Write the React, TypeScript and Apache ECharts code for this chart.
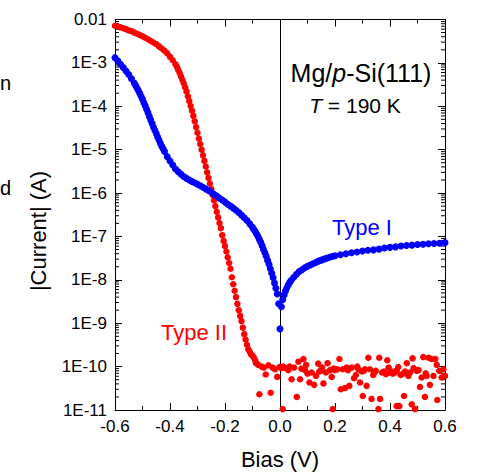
import React, { useEffect, useRef } from "react";
import * as echarts from "echarts";

const FONT = '"Liberation Sans", Arial, Helvetica, sans-serif';

// Axis ranges / ticks
const biasTicks = [-0.6, -0.4, -0.2, 0.0, 0.2, 0.4, 0.6];
const currentMin = 1e-11;
const currentMax = 0.01;
const decadeExponents = [-11, -10, -9, -8, -7, -6, -5, -4, -3];
const minorMultipliers = [2, 3, 4, 5, 6, 7, 8, 9];

// Type I (blue): [bias V, |current| A]
const typeI: [number, number][] = [
  [-0.6, 1.32e-3], [-0.59, 1.12e-3], [-0.58, 9.3e-4], [-0.57, 7.8e-4], [-0.56, 6.5e-4],
  [-0.55, 5.4e-4], [-0.54, 4.3e-4], [-0.53, 3.45e-4], [-0.525, 3.0e-4], [-0.52, 2.65e-4],
  [-0.515, 2.3e-4], [-0.51, 2.0e-4], [-0.505, 1.7e-4], [-0.5, 1.45e-4], [-0.495, 1.2e-4],
  [-0.49, 1.03e-4], [-0.485, 8.5e-5], [-0.48, 7.1e-5], [-0.475, 5.8e-5], [-0.47, 4.8e-5],
  [-0.465, 4.0e-5], [-0.46, 3.3e-5], [-0.455, 2.8e-5], [-0.45, 2.35e-5], [-0.445, 1.96e-5],
  [-0.44, 1.66e-5], [-0.435, 1.4e-5], [-0.43, 1.2e-5], [-0.425, 1.05e-5], [-0.42, 9.1e-6],
  [-0.41, 6.9e-6], [-0.4, 5.5e-6], [-0.39, 4.45e-6], [-0.38, 3.6e-6], [-0.37, 3.1e-6],
  [-0.36, 2.7e-6], [-0.35, 2.4e-6], [-0.34, 2.18e-6], [-0.33, 2.0e-6], [-0.32, 1.85e-6],
  [-0.31, 1.73e-6], [-0.3, 1.6e-6], [-0.29, 1.47e-6], [-0.28, 1.36e-6], [-0.27, 1.25e-6],
  [-0.26, 1.15e-6], [-0.25, 1.04e-6], [-0.24, 9.4e-7], [-0.23, 8.5e-7], [-0.22, 7.6e-7],
  [-0.21, 6.9e-7], [-0.2, 6.2e-7], [-0.19, 5.5e-7], [-0.18, 5.0e-7], [-0.17, 4.5e-7],
  [-0.16, 4.0e-7], [-0.15, 3.55e-7], [-0.14, 3.1e-7], [-0.13, 2.7e-7], [-0.12, 2.33e-7],
  [-0.11, 1.95e-7], [-0.1, 1.62e-7], [-0.095, 1.45e-7], [-0.09, 1.3e-7], [-0.085, 1.14e-7],
  [-0.08, 1.0e-7], [-0.075, 8.5e-8], [-0.07, 7.3e-8], [-0.065, 6.1e-8], [-0.06, 5.0e-8],
  [-0.055, 4.2e-8], [-0.05, 3.5e-8], [-0.045, 2.8e-8], [-0.04, 2.28e-8], [-0.035, 1.8e-8],
  [-0.03, 1.42e-8], [-0.025, 1.12e-8], [-0.02, 8.4e-9], [-0.015, 6.4e-9], [-0.01, 4.7e-9],
  [-0.005, 2.8e-9], [0.0, 7.4e-10], [0.005, 2.4e-9], [0.01, 3.5e-9], [0.015, 4.5e-9],
  [0.02, 5.5e-9], [0.025, 6.6e-9], [0.03, 7.6e-9], [0.035, 8.7e-9], [0.04, 9.6e-9],
  [0.05, 1.15e-8], [0.06, 1.35e-8], [0.07, 1.55e-8], [0.08, 1.7e-8], [0.09, 1.9e-8],
  [0.1, 2.05e-8], [0.11, 2.2e-8], [0.12, 2.35e-8], [0.13, 2.5e-8], [0.14, 2.7e-8],
  [0.15, 2.85e-8], [0.16, 3.0e-8], [0.17, 3.15e-8], [0.18, 3.3e-8], [0.19, 3.45e-8],
  [0.2, 3.6e-8], [0.22, 3.8e-8], [0.24, 4.0e-8], [0.26, 4.2e-8], [0.28, 4.4e-8],
  [0.3, 4.6e-8], [0.32, 4.8e-8], [0.34, 4.9e-8], [0.36, 5.1e-8], [0.38, 5.4e-8],
  [0.4, 5.6e-8], [0.42, 5.75e-8], [0.44, 6.0e-8], [0.46, 6.2e-8], [0.48, 6.3e-8],
  [0.5, 6.5e-8], [0.52, 6.6e-8], [0.54, 6.8e-8], [0.56, 6.9e-8], [0.58, 7.0e-8],
  [0.6, 7.2e-8],
];

// Type II (red): [bias V, |current| A]
const typeII: [number, number][] = [
  [-0.6, 7.2e-3], [-0.59, 6.9e-3], [-0.58, 6.6e-3], [-0.57, 6.3e-3], [-0.56, 6.0e-3],
  [-0.55, 5.6e-3], [-0.54, 5.4e-3], [-0.53, 5.0e-3], [-0.52, 4.7e-3], [-0.51, 4.4e-3],
  [-0.5, 4.1e-3], [-0.49, 3.8e-3], [-0.48, 3.5e-3], [-0.47, 3.2e-3], [-0.46, 2.95e-3],
  [-0.45, 2.7e-3], [-0.44, 2.4e-3], [-0.43, 2.14e-3], [-0.42, 1.9e-3], [-0.41, 1.66e-3],
  [-0.4, 1.38e-3], [-0.39, 1.15e-3], [-0.38, 9.3e-4], [-0.375, 8.1e-4], [-0.37, 6.9e-4],
  [-0.365, 5.9e-4], [-0.36, 4.9e-4], [-0.355, 4.1e-4], [-0.35, 3.4e-4], [-0.345, 2.75e-4],
  [-0.34, 2.2e-4], [-0.335, 1.7e-4], [-0.33, 1.32e-4], [-0.325, 1.02e-4], [-0.32, 7.9e-5],
  [-0.315, 6.0e-5], [-0.31, 4.5e-5], [-0.305, 3.3e-5], [-0.3, 2.45e-5], [-0.295, 1.8e-5],
  [-0.29, 1.35e-5], [-0.285, 1.0e-5], [-0.28, 7.4e-6], [-0.275, 5.5e-6], [-0.27, 4.1e-6],
  [-0.265, 3.0e-6], [-0.26, 2.24e-6], [-0.255, 1.66e-6], [-0.25, 1.23e-6], [-0.245, 9.1e-7],
  [-0.24, 6.8e-7], [-0.235, 5.0e-7], [-0.23, 3.7e-7], [-0.225, 2.75e-7], [-0.22, 2.04e-7],
  [-0.215, 1.55e-7], [-0.21, 1.07e-7], [-0.205, 7.9e-8], [-0.2, 6.0e-8], [-0.195, 4.5e-8],
  [-0.19, 3.3e-8], [-0.185, 2.45e-8], [-0.18, 1.8e-8], [-0.175, 1.15e-8], [-0.17, 7.9e-9],
  [-0.165, 5.6e-9], [-0.16, 4.0e-9], [-0.155, 2.8e-9], [-0.15, 2.0e-9], [-0.145, 1.48e-9],
  [-0.14, 1.12e-9], [-0.135, 7.9e-10], [-0.13, 5.6e-10], [-0.125, 4.2e-10], [-0.12, 3.2e-10],
  [-0.115, 2.5e-10], [-0.11, 2.2e-10], [-0.105, 1.9e-10], [-0.1, 1.8e-10], [-0.095, 1.6e-10],
  [-0.09, 1.38e-10],
  // noise floor
  [-0.087, 1.2e-10], [-0.079, 1.1e-10], [-0.075, 2.3e-11], [-0.067, 1.0e-10], [-0.059, 9.5e-11],
  [-0.052, 6.6e-11], [-0.042, 1.07e-10], [-0.034, 2.5e-11], [-0.027, 9.5e-11], [-0.018, 8.7e-11],
  [-0.01, 5.8e-11], [-0.002, 9.8e-11], [0.005, 9.2e-11], [0.01, 1.05e-11], [0.012, 1.0e-10],
  [0.022, 9.2e-11], [0.03, 8.3e-11], [0.035, 1.0e-10], [0.042, 5.1e-11], [0.051, 9.5e-11],
  [0.061, 2.0e-11], [0.067, 1.3e-10], [0.073, 5.1e-11], [0.078, 9.0e-11], [0.085, 1.5e-10],
  [0.091, 8.3e-11], [0.095, 1.1e-10], [0.1, 6.9e-11], [0.107, 4.3e-11], [0.115, 7.3e-11],
  [0.124, 3.8e-11], [0.131, 6.1e-11], [0.139, 1.17e-10], [0.143, 7.7e-11], [0.148, 8.0e-11],
  [0.153, 9.5e-11], [0.158, 4.1e-11], [0.167, 7.3e-11], [0.173, 1.2e-10], [0.182, 8.3e-11],
  [0.188, 5.8e-11], [0.192, 1.05e-11], [0.195, 9.0e-11], [0.2, 8.3e-11], [0.209, 8.7e-11],
  [0.216, 1.5e-10], [0.221, 3.0e-11], [0.228, 8.7e-11], [0.236, 3.2e-11], [0.242, 9.5e-11],
  [0.247, 8.3e-11], [0.252, 3.6e-11], [0.261, 9.5e-11], [0.269, 5.4e-11], [0.276, 6.4e-11],
  [0.281, 1.0e-10], [0.285, 8.7e-11], [0.291, 4.3e-11], [0.298, 7.7e-11], [0.301, 2.1e-11],
  [0.305, 8.0e-11], [0.309, 8.7e-11], [0.315, 3.6e-11], [0.321, 1.6e-10], [0.327, 8.7e-11],
  [0.333, 1.8e-11], [0.339, 6.4e-11], [0.343, 7.3e-11], [0.348, 8.0e-11], [0.358, 1.05e-11],
  [0.361, 1.6e-10], [0.364, 1.8e-11], [0.371, 7.3e-11], [0.378, 7.7e-11], [0.385, 6.7e-11],
  [0.39, 1.4e-10], [0.395, 9.5e-11], [0.4, 7.3e-11], [0.405, 7.7e-11], [0.41, 6.9e-11],
  [0.418, 7.3e-11], [0.424, 1.23e-11], [0.425, 8.3e-11], [0.43, 9.8e-11], [0.434, 1.23e-11],
  [0.439, 6.4e-11], [0.448, 6.9e-11], [0.451, 2.1e-11], [0.455, 7.7e-11], [0.461, 1.2e-10],
  [0.467, 6.1e-11], [0.473, 7.3e-11], [0.479, 1.35e-11], [0.482, 1.55e-10], [0.486, 9.2e-11],
  [0.491, 1.05e-11], [0.497, 8.0e-11], [0.504, 8.3e-11], [0.509, 3.4e-11], [0.515, 5.6e-11],
  [0.521, 1.66e-10], [0.527, 2.0e-11], [0.53, 7.0e-11], [0.533, 6.1e-11], [0.54, 1.6e-10],
  [0.545, 3.8e-11], [0.551, 1.5e-10], [0.558, 6.1e-11], [0.565, 1.5e-10], [0.57, 1.1e-10],
  [0.572, 1.7e-11], [0.579, 8.0e-11], [0.588, 5.6e-11], [0.594, 8.7e-11], [0.6, 6.1e-11],
];

const minorTickValues: number[] = [];
decadeExponents.forEach((e) => {
  minorMultipliers.forEach((m) => minorTickValues.push(Number((m * Math.pow(10, e)).toPrecision(3))));
});

const axisLineStyle = { color: "#000", width: 1 };

export default function App() {
  const ref = useRef<HTMLDivElement>(null);

  useEffect(() => {
    if (!ref.current) return;
    const chart = echarts.init(ref.current, undefined, { renderer: "svg" });

    const xCommon = {
      type: "value",
      min: biasTicks[0],
      max: biasTicks[biasTicks.length - 1],
      interval: 0.2,
      axisLine: { show: true, onZero: false, lineStyle: axisLineStyle },
      axisTick: { show: true, inside: true, length: 7, lineStyle: { color: "#000", width: 1 } },
      minorTick: { show: true, splitNumber: 2, length: 4, lineStyle: { color: "#000", width: 1 } },
      splitLine: { show: false },
      minorSplitLine: { show: false },
    };
    const yCommon = {
      type: "log",
      logBase: 10,
      min: currentMin,
      max: currentMax,
      splitNumber: 9,
      axisLine: { show: true, onZero: false, lineStyle: axisLineStyle },
      axisTick: { show: true, inside: true, length: 7, lineStyle: { color: "#000", width: 1 } },
      splitLine: { show: false },
    };

    const option: any = {
      animation: false,
      backgroundColor: "#fff",
      grid: { left: 115, top: 19.5, width: 330, height: 393.5, containLabel: false },
      xAxis: [
        {
          ...xCommon,
          position: "bottom",
          axisLabel: {
            show: true,
            color: "#000",
            fontSize: 17,
            fontFamily: FONT,
            margin: 8,
            formatter: (v: number) => (Math.abs(v) < 1e-9 ? "0.0" : v.toFixed(1)),
          },
          name: "Bias (V)",
          nameLocation: "middle",
          nameGap: 38,
          nameTextStyle: { color: "#000", fontSize: 22, fontFamily: FONT },
        },
        { ...xCommon, position: "top", axisLabel: { show: false } },
      ],
      yAxis: [
        {
          ...yCommon,
          position: "left",
          axisLabel: {
            show: true,
            color: "#000",
            fontSize: 17,
            fontFamily: FONT,
            margin: 8,
            formatter: (v: number) => {
              const e = Math.round(Math.log10(v));
              return e === -2 ? "0.01" : "1E" + e;
            },
          },
        },
        { ...yCommon, position: "right", axisLabel: { show: false } },
      ],
      series: [
        {
          type: "custom",
          name: "minorTicks",
          xAxisIndex: 0,
          yAxisIndex: 0,
          silent: true,
          clip: false,
          data: minorTickValues.map((v) => [0, v]),
          renderItem: (params: any, api: any) => {
            const v = api.value(1);
            const pL = api.coord([biasTicks[0], v]);
            const pR = api.coord([biasTicks[biasTicks.length - 1], v]);
            return {
              type: "group",
              children: [
                { type: "line", shape: { x1: pL[0], y1: pL[1], x2: pL[0] + 4, y2: pL[1] }, style: { stroke: "#000", lineWidth: 1 } },
                { type: "line", shape: { x1: pR[0] - 4, y1: pR[1], x2: pR[0], y2: pR[1] }, style: { stroke: "#000", lineWidth: 1 } },
              ],
            };
          },
        },
        {
          type: "scatter",
          name: "Type II",
          data: typeII,
          symbol: "circle",
          symbolSize: 6.5,
          itemStyle: { color: "#ff0000", opacity: 1 },
          emphasis: { disabled: true },
          z: 3,
        },
        {
          type: "scatter",
          name: "Type I",
          data: typeI,
          symbol: "circle",
          symbolSize: 7,
          itemStyle: { color: "#0000ff", opacity: 1 },
          emphasis: { disabled: true },
          z: 4,
          markLine: {
            silent: true,
            symbol: ["none", "none"],
            label: { show: false },
            lineStyle: { color: "#000", width: 1, type: "solid", opacity: 1 },
            data: [{ xAxis: 0 }],
            z: 2,
          },
        },
      ],
      graphic: [
        {
          type: "text",
          x: 38,
          y: 231,
          rotation: Math.PI / 2,
          style: {
            text: "|Current| (A)",
            fill: "#000",
            font: `22px ${FONT}`,
            align: "center",
            verticalAlign: "middle",
          },
        },
        {
          type: "text",
          x: 361,
          y: 73,
          style: {
            text: "{a|Mg/}{i|p}{a|-Si(111)}",
            align: "center",
            verticalAlign: "middle",
            rich: {
              a: { fontSize: 25, fontFamily: FONT, fill: "#000" },
              i: { fontSize: 25, fontFamily: FONT, fontStyle: "italic", fill: "#000" },
            },
          },
        },
        {
          type: "text",
          x: 355,
          y: 105,
          style: {
            text: "{i|T}{a| = 190 K}",
            align: "center",
            verticalAlign: "middle",
            rich: {
              a: { fontSize: 21, fontFamily: FONT, fill: "#000" },
              i: { fontSize: 21, fontFamily: FONT, fontStyle: "italic", fill: "#000" },
            },
          },
        },
        {
          type: "text",
          x: 362,
          y: 227,
          style: { text: "Type I", fill: "#0000ff", font: `22px ${FONT}`, align: "center", verticalAlign: "middle" },
        },
        {
          type: "text",
          x: 194,
          y: 332,
          style: { text: "Type II", fill: "#ff0000", font: `22px ${FONT}`, align: "center", verticalAlign: "middle" },
        },
        {
          type: "text",
          x: 0,
          y: 83,
          style: { text: "n", fill: "#000", font: `20px ${FONT}`, align: "left", verticalAlign: "middle" },
        },
        {
          type: "text",
          x: 0,
          y: 188,
          style: { text: "d", fill: "#000", font: `20px ${FONT}`, align: "left", verticalAlign: "middle" },
        },
      ],
    };

    chart.setOption(option);
    return () => chart.dispose();
  }, []);

  return (
    <div
      ref={ref}
      style={{ position: "fixed", left: 0, top: 0, width: 479, height: 475, background: "#fff" }}
    />
  );
}
